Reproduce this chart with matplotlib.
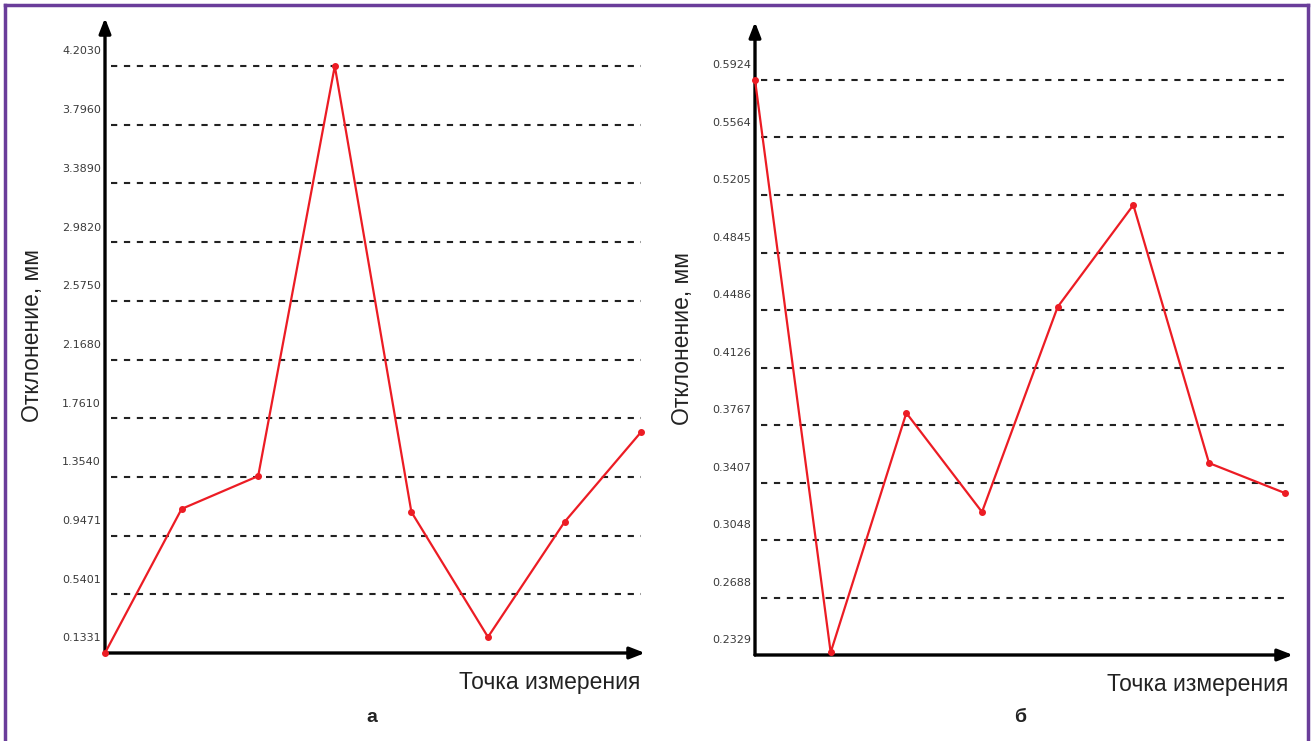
import matplotlib.pyplot as plt
from matplotlib.lines import Line2D

plt.rcParams['font.family'] = ['Liberation Sans', 'DejaVu Sans']

# data
points = list(range(8))
ticks_a = [0.1331, 0.5401, 0.9471, 1.3540, 1.7610, 2.1680, 2.5750, 2.9820, 3.3890, 3.7960, 4.2030]
values_a = [0.1331, 1.132, 1.360, 4.2030, 1.111, 0.244, 1.042, 1.666]
ticks_b = [0.2329, 0.2688, 0.3048, 0.3407, 0.3767, 0.4126, 0.4486, 0.4845, 0.5205, 0.5564, 0.5924]
values_b = [0.5924, 0.2345, 0.3842, 0.3223, 0.4505, 0.5142, 0.3529, 0.3342]

W, H = 1312, 741
fig = plt.figure(figsize=(W / 100, H / 100), dpi=100)


def panel(x0, x1, y_axis, y_top, ticks, values, xmax, ytop, letter, letter_x):
    ax = fig.add_axes([x0 / W, (H - y_axis) / H, (x1 - x0) / W, (y_axis - y_top) / H])
    ax.set_xlim(0, xmax)
    ax.set_ylim(ticks[0], ytop)
    ax.axis('off')

    # dashed grid
    for t in ticks[1:]:
        ax.plot([0.08, 7], [t, t], color='#222222', lw=1.5, ls=(0, (3, 3.2)), zorder=1)

    # tick labels
    for t in ticks:
        ax.annotate(f"{t:.4f}", (0, t), xytext=(-3, 10.5), textcoords='offset points',
                    ha='right', va='center', fontsize=8, color='#3a3a3a',
                    family='DejaVu Sans', annotation_clip=False)

    # axes with arrows
    arrow = dict(arrowstyle='-|>,head_length=0.9,head_width=0.35', color='black', lw=2.4,
                 shrinkA=0, shrinkB=0)
    ax.annotate('', xy=(0, 1), xytext=(0, 0), xycoords='axes fraction', arrowprops=arrow)
    ax.annotate('', xy=(1, 0), xytext=(0, 0), xycoords='axes fraction', arrowprops=arrow)

    ax.plot(points, values, color='#ec1c24', lw=1.6, marker='o', ms=4, zorder=3, clip_on=False)

    ax.text(-0.135, 0.5, 'Отклонение, мм', transform=ax.transAxes, rotation=90,
            ha='center', va='center', fontsize=16.5, color='#222222')
    ax.annotate('Точка измерения', (1, 0), xycoords='axes fraction', xytext=(-3, -21),
                textcoords='offset points', ha='right', va='center', fontsize=16.5,
                color='#222222')
    fig.text(letter_x / W, 1 - 718 / H, letter, ha='center', va='center',
             fontsize=14, fontweight='bold', color='#222222')
    return ax


panel(105, 645, 653, 18, ticks_a, values_a, 7.05, 4.536, 'а', 372)
panel(755, 1293, 655, 22, ticks_b, values_b, 7.11, 0.6286, 'б', 1020)

# purple frame
purple = '#6a3d9a'
fig.add_artist(Line2D([5 / W, 5 / W], [0, 1 - 5 / H], color=purple, lw=2.5))
fig.add_artist(Line2D([5 / W, 1308 / W], [1 - 5 / H, 1 - 5 / H], color=purple, lw=2.5))
fig.add_artist(Line2D([1308 / W, 1308 / W], [0, 1 - 5 / H], color=purple, lw=2.5))

fig.savefig('out.png', dpi=100)
